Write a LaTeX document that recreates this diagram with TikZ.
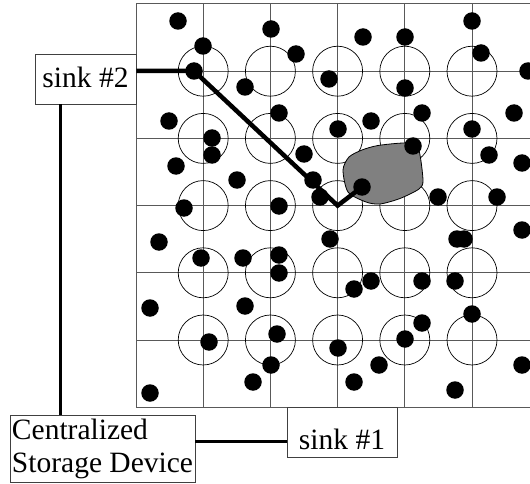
\documentclass[tikz,border=0pt]{standalone}
\usepackage{fontspec}
\setmainfont{Liberation Serif}
\begin{document}
\begin{tikzpicture}[x=1pt,y=-1pt,
  gridline/.style={draw=black!65, line width=1pt},
  cellring/.style={draw=black, line width=0.7pt},
  sensor/.style={circle, fill=black, inner sep=0pt, minimum size=17.5pt},
  tagbox/.style={draw=black!75, fill=white, line width=0.8pt, inner sep=1pt,
                 font=\fontsize{29.5}{33}\selectfont},
  route/.style={line width=4.5pt, line join=miter},
  wire/.style={line width=3pt}]
\useasboundingbox (0,0) rectangle (530,484);

% grid
\foreach \k in {0,...,6} {
  \draw[gridline] (136,{4+67.2*\k}) -- (545,{4+67.2*\k});
}
\foreach \k in {0,...,6} {
  \draw[gridline] ({136+67.2*\k},4) -- ({136+67.2*\k},407.2);
}
% rings
\foreach \i in {1,...,5} {
  \foreach \j in {1,...,5} {
    \draw[cellring] ({136+67.2*\i},{4+67.2*\j}) circle[radius=25];
  }
}
% event region
\draw[fill=black!50, draw=black, line width=0.8pt]
  plot[smooth cycle, tension=0.45] coordinates {
    (378,145.5) (405,143) (418,147) (423,180) (419,189) (400,198.5)
    (380,204) (366,202) (348,192) (343,170) (349,157) (362,150)};

% sensors
\foreach \p [count=\n] in {
  (178,21),(203,46),(194,71),(245,87),(271,29),(296,54),(363,37),(405,37),
  (329,79),(405,88),(472,21),(481,53),(528,71),(169,121),(212,138),(212,155),
  (279,113),(338,129),(371,121),(422,113),(472,129),(514,113),(176,166),(237,180),
  (304,154),(313,180),(320,197),(362,187),(184,208),(279,206),(413,146),(489,155),
  (522,163),(438,197),(497,197),(159,242),(201,258),(243,258),(330,239),(457,239),
  (464,239),(522,230),(279,255),(279,273),(354,289),(371,281),(422,281),(455,281),
  (150,308),(245,306),(209,342),(271,365),(253,382),(150,393),(277,334),(338,348),
  (379,365),(354,382),(405,339),(422,323),(472,314),(455,390),(522,365)} {
  \node[sensor] (d\n) at \p {};
}

% boxes
\node[tagbox, minimum width=101pt, minimum height=50pt, text height=33pt, text depth=15pt]
  (s2) at (85.5,79) {sink \#2};
\node[tagbox, minimum width=110pt, minimum height=50pt, text height=41pt, text depth=7pt]
  (s1) at (342,432) {sink \#1};
\node[tagbox, minimum width=185pt, minimum height=67pt, align=left]
  (cent) at (102.5,448.5) {Centralized\\Storage Device};

% connectors
\coordinate (bend) at (337.6,205.6);
\coordinate (wx) at (60,0);
\coordinate (wy) at (0,441);
\draw[route] (s2.east |- d3.center) -- (d3.center) -- (bend) -- (d28.center);
\draw[wire] (s2.south -| wx) -- (cent.north -| wx);
\draw[wire] (cent.east |- wy) -- (s1.west |- wy);
\end{tikzpicture}
\end{document}
